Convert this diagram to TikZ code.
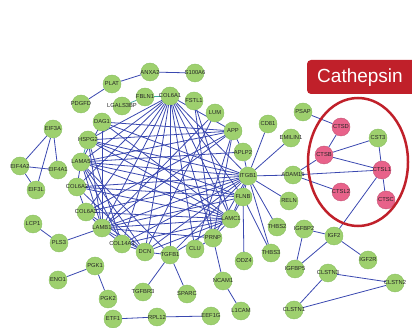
\documentclass[tikz,border=0pt]{standalone}
\usepackage{fontspec}
\setmainfont{Liberation Sans}
\usetikzlibrary{backgrounds}

\definecolor{nodegreen}{HTML}{9ED06E}
\definecolor{nodeline}{HTML}{88BF60}
\definecolor{cathpink}{HTML}{E8628A}
\definecolor{edgeblue}{HTML}{3A48B0}
\definecolor{edgeteal}{HTML}{3FA8A0}
\definecolor{cathred}{HTML}{C0202A}

\tikzset{
  gene/.style={draw=nodeline, fill=nodegreen, circle, minimum size=18pt, inner sep=0pt},
  cath/.style={gene, draw=cathpink!85!black, fill=cathpink},
  lbl/.style={font=\fontsize{5.8}{6}\selectfont, text=black!85, inner sep=0pt},
  link/.style={edgeblue, line width=0.8pt},
  tlink/.style={edgeteal, line width=0.8pt},
}

\begin{document}
\begin{tikzpicture}[x=1pt, y=-1pt]
        \useasboundingbox (0, 0) rectangle (412, 328);
        % cathepsin tag
        \fill [cathred, rounded corners=4pt] (307, 60) rectangle (430, 94);
        \node [text=white, font=\fontsize{19}{20}\selectfont] (tag) at (360, 78) {Cathepsin};
        % nodes
        \node [gene] (ANXA2) at (150, 72) {}; \node [lbl] at (ANXA2) {ANXA2};
        \node [gene] (S100A6) at (195, 73) {}; \node [lbl] at (S100A6) {S100A6};
        \node [gene] (PLAT) at (112, 84) {}; \node [lbl] at (PLAT) {PLAT};
        \node [gene] (PDGFD) at (81, 104) {}; \node [lbl] at (PDGFD) {PDGFD};
        \node [gene] (FBLN1) at (145, 97) {}; \node [lbl] at (FBLN1) {FBLN1};
        \node [gene] (COL6A1) at (170, 96) {}; \node [lbl] at (COL6A1) {COL6A1};
        \node [gene] (FSTL1) at (194, 101) {}; \node [lbl] at (FSTL1) {FSTL1};
        \node [gene] (LGALS3BP) at (122, 106) {}; \node [lbl] at (LGALS3BP) {LGALS3BP};
        \node [gene] (DAG1) at (102, 122) {}; \node [lbl] at (DAG1) {DAG1};
        \node [gene] (EIF3A) at (53, 129) {}; \node [lbl] at (EIF3A) {EIF3A};
        \node [gene] (HSPG2) at (88, 140) {}; \node [lbl] at (HSPG2) {HSPG2};
        \node [gene] (LAMA5) at (81, 162) {}; \node [lbl] at (LAMA5) {LAMA5};
        \node [gene] (EIF4A2) at (20, 166) {}; \node [lbl] at (EIF4A2) {EIF4A2};
        \node [gene] (EIF4A1) at (58, 170) {}; \node [lbl] at (EIF4A1) {EIF4A1};
        \node [gene] (EIF3L) at (36, 190) {}; \node [lbl] at (EIF3L) {EIF3L};
        \node [gene] (COL6A2) at (77, 187) {}; \node [lbl] at (COL6A2) {COL6A2};
        \node [gene] (COL6A3) at (86, 212) {}; \node [lbl] at (COL6A3) {COL6A3};
        \node [gene] (LCP1) at (33, 224) {}; \node [lbl] at (LCP1) {LCP1};
        \node [gene] (PLS3) at (59, 243) {}; \node [lbl] at (PLS3) {PLS3};
        \node [gene] (LAMB1) at (102, 228) {}; \node [lbl] at (LAMB1) {LAMB1};
        \node [gene] (COL14A1) at (122, 244) {}; \node [lbl] at (COL14A1) {COL14A1};
        \node [gene] (DCN) at (145, 252) {}; \node [lbl] at (DCN) {DCN};
        \node [gene] (TGFB1) at (170, 255) {}; \node [lbl] at (TGFB1) {TGFB1};
        \node [gene] (CLU) at (195, 249) {}; \node [lbl] at (CLU) {CLU};
        \node [gene] (PGK1) at (95, 266) {}; \node [lbl] at (PGK1) {PGK1};
        \node [gene] (ENO1) at (58, 280) {}; \node [lbl] at (ENO1) {ENO1};
        \node [gene] (PGK2) at (108, 299) {}; \node [lbl] at (PGK2) {PGK2};
        \node [gene] (TGFBR3) at (143, 292) {}; \node [lbl] at (TGFBR3) {TGFBR3};
        \node [gene] (SPARC) at (187, 294) {}; \node [lbl] at (SPARC) {SPARC};
        \node [gene] (ETF1) at (113, 319) {}; \node [lbl] at (ETF1) {ETF1};
        \node [gene] (RPL12) at (157, 317) {}; \node [lbl] at (RPL12) {RPL12};
        \node [gene] (EEF1G) at (211, 316) {}; \node [lbl] at (EEF1G) {EEF1G};
        \node [gene] (L1CAM) at (241, 311) {}; \node [lbl] at (L1CAM) {L1CAM};
        \node [gene] (NCAM1) at (223, 281) {}; \node [lbl] at (NCAM1) {NCAM1};
        \node [gene] (PRNP) at (213, 238) {}; \node [lbl] at (PRNP) {PRNP};
        \node [gene] (ODZ4) at (244, 261) {}; \node [lbl] at (ODZ4) {ODZ4};
        \node [gene] (LAMC1) at (231, 219) {}; \node [lbl] at (LAMC1) {LAMC1};
        \node [gene] (FLNB) at (243, 197) {}; \node [lbl] at (FLNB) {FLNB};
        \node [gene] (ITGB1) at (248, 176) {}; \node [lbl] at (ITGB1) {ITGB1};
        \node [gene] (ADAM15) at (293, 175) {}; \node [lbl] at (ADAM15) {ADAM15};
        \node [gene] (RELN) at (289, 201) {}; \node [lbl] at (RELN) {RELN};
        \node [gene] (THBS2) at (277, 227) {}; \node [lbl] at (THBS2) {THBS2};
        \node [gene] (THBS3) at (271, 253) {}; \node [lbl] at (THBS3) {THBS3};
        \node [gene] (IGFBP2) at (304, 229) {}; \node [lbl] at (IGFBP2) {IGFBP2};
        \node [gene] (IGF2) at (334, 236) {}; \node [lbl] at (IGF2) {IGF2};
        \node [gene] (IGF2R) at (368, 260) {}; \node [lbl] at (IGF2R) {IGF2R};
        \node [gene] (IGFBP5) at (295, 269) {}; \node [lbl] at (IGFBP5) {IGFBP5};
        \node [gene] (CLSTN3) at (328, 273) {}; \node [lbl] at (CLSTN3) {CLSTN3};
        \node [gene] (CLSTN2) at (395, 283) {}; \node [lbl] at (CLSTN2) {CLSTN2};
        \node [gene] (CLSTN1) at (294, 310) {}; \node [lbl] at (CLSTN1) {CLSTN1};
        \node [gene] (LUM) at (215, 113) {}; \node [lbl] at (LUM) {LUM};
        \node [gene] (APP) at (233, 131) {}; \node [lbl] at (APP) {APP};
        \node [gene] (APLP2) at (243, 152) {}; \node [lbl] at (APLP2) {APLP2};
        \node [gene] (CD81) at (268, 124) {}; \node [lbl] at (CD81) {CD81};
        \node [gene] (EMILIN1) at (291, 138) {}; \node [lbl] at (EMILIN1) {EMILIN1};
        \node [gene] (PSAP) at (303, 112) {}; \node [lbl] at (PSAP) {PSAP};
        \node [gene] (CST3) at (378, 138) {}; \node [lbl] at (CST3) {CST3};
        \node [cath] (CTSD) at (341, 127) {}; \node [lbl] at (CTSD) {CTSD};
        \node [cath] (CTSB) at (324, 155) {}; \node [lbl] at (CTSB) {CTSB};
        \node [cath] (CTSL1) at (382, 170) {}; \node [lbl] at (CTSL1) {CTSL1};
        \node [cath] (CTSL2) at (341, 192) {}; \node [lbl] at (CTSL2) {CTSL2};
        \node [cath] (CTSC) at (386, 200) {}; \node [lbl] at (CTSC) {CTSC};
        % cathepsin group
        \draw [cathred, line width=2.5pt] (358, 162) ellipse [x radius=50, y radius=64];
        \begin{scope}[on background layer]
        % outer links
        \draw [link] (ANXA2) -- (S100A6);
        \draw [link] (ANXA2) -- (PLAT);
        \draw [link] (PLAT) -- (PDGFD);
        \draw [tlink] (FBLN1) -- (COL6A1);
        \draw [tlink] (LGALS3BP) -- (FBLN1);
        \draw [link] (EIF3A) -- (EIF4A2);
        \draw [link] (EIF3A) -- (EIF4A1);
        \draw [link] (EIF3A) -- (EIF3L);
        \draw [link] (EIF4A2) -- (EIF4A1);
        \draw [link] (EIF4A2) -- (EIF3L);
        \draw [link] (LCP1) -- (PLS3);
        \draw [link] (PLS3) -- (LAMB1);
        \draw [link] (PGK1) -- (ENO1);
        \draw [link] (PGK1) -- (PGK2);
        \draw [link] (ETF1) -- (RPL12);
        \draw [link] (RPL12) -- (EEF1G);
        \draw [link] (TGFB1) -- (TGFBR3);
        \draw [link] (TGFB1) -- (SPARC);
        \draw [link] (PRNP) -- (NCAM1);
        \draw [link] (NCAM1) -- (L1CAM);
        \draw [link] (FLNB) -- (ODZ4);
        \draw [link] (ITGB1) -- (ADAM15);
        \draw [link] (ITGB1) -- (RELN);
        \draw [link] (ITGB1) -- (THBS2);
        \draw [link] (ITGB1) -- (THBS3);
        \draw [link] (FLNB) -- (THBS3);
        \draw [link] (ITGB1) -- (CD81);
        \draw [link] (ITGB1) -- (EMILIN1);
        \draw [link] (ADAM15) -- (CTSL1);
        \draw [link] (ADAM15) -- (CTSB);
        \draw [link] (ADAM15) -- (CTSL2);
        \draw [link] (PSAP) -- (CTSD);
        \draw [link] (CTSD) -- (CTSB);
        \draw [link] (CTSB) -- (CST3);
        \draw [link] (CTSB) -- (CTSL1);
        \draw [link] (CST3) -- (CTSL1);
        \draw [link] (CTSL1) -- (CTSC);
        \draw [link] (CTSL1) -- (IGF2);
        \draw [link] (IGF2) -- (IGFBP2);
        \draw [link] (IGF2) -- (IGFBP5);
        \draw [link] (IGF2) -- (IGF2R);
        \draw [link] (IGFBP2) -- (IGFBP5);
        \draw [link] (CLSTN3) -- (CLSTN2);
        \draw [link] (CLSTN3) -- (CLSTN1);
        \draw [link] (CLSTN1) -- (CLSTN2);
        % dense core
        \draw [link] (COL6A1) -- (LAMA5);
        \draw [link] (COL6A1) -- (HSPG2);
        \draw [link] (COL6A1) -- (COL6A2);
        \draw [link] (COL6A1) -- (COL6A3);
        \draw [link] (COL6A1) -- (LAMB1);
        \draw [link] (COL6A1) -- (COL14A1);
        \draw [link] (COL6A1) -- (DCN);
        \draw [link] (COL6A1) -- (TGFB1);
        \draw [link] (COL6A1) -- (CLU);
        \draw [link] (COL6A1) -- (PRNP);
        \draw [link] (COL6A1) -- (LAMC1);
        \draw [link] (COL6A1) -- (FLNB);
        \draw [link] (COL6A1) -- (ITGB1);
        \draw [link] (COL6A1) -- (APP);
        \draw [link] (FSTL1) -- (LAMC1);
        \draw [link] (FSTL1) -- (PRNP);
        \draw [link] (LUM) -- (DCN);
        \draw [link] (LUM) -- (LAMB1);
        \draw [link] (APP) -- (LAMA5);
        \draw [link] (APP) -- (HSPG2);
        \draw [link] (APP) -- (DAG1);
        \draw [link] (APP) -- (COL6A3);
        \draw [link] (APP) -- (CLU);
        \draw [link] (APP) -- (PRNP);
        \draw [link] (APP) -- (APLP2);
        \draw [link] (APP) -- (LAMB1);
        \draw [link] (APLP2) -- (ITGB1);
        \draw [link] (APLP2) -- (LAMA5);
        \draw [link] (DAG1) -- (LAMA5);
        \draw [link] (DAG1) -- (LAMB1);
        \draw [link] (DAG1) -- (ITGB1);
        \draw [link] (DAG1) -- (LAMC1);
        \draw [tlink] (HSPG2) -- (LAMA5);
        \draw [link] (HSPG2) -- (ITGB1);
        \draw [link] (HSPG2) -- (LAMB1);
        \draw [link] (HSPG2) -- (LAMC1);
        \draw [link] (HSPG2) -- (FLNB);
        \draw [link] (HSPG2) -- (COL14A1);
        \draw [link] (LAMA5) -- (COL6A2);
        \draw [link] (LAMA5) -- (LAMB1);
        \draw [link] (LAMA5) -- (LAMC1);
        \draw [link] (LAMA5) -- (ITGB1);
        \draw [link] (LAMA5) -- (DCN);
        \draw [link] (LAMA5) -- (FLNB);
        \draw [link] (LAMA5) -- (COL14A1);
        \draw [link] (LAMA5) -- (TGFB1);
        \draw [link] (COL6A2) -- (COL6A3);
        \draw [link] (COL6A2) -- (ITGB1);
        \draw [link] (COL6A2) -- (LAMC1);
        \draw [link] (COL6A2) -- (DCN);
        \draw [link] (COL6A2) -- (FLNB);
        \draw [link] (COL6A3) -- (ITGB1);
        \draw [link] (COL6A3) -- (LAMC1);
        \draw [link] (COL6A3) -- (DCN);
        \draw [link] (COL6A3) -- (LAMB1);
        \draw [link] (LAMB1) -- (ITGB1);
        \draw [link] (LAMB1) -- (LAMC1);
        \draw [link] (LAMB1) -- (FLNB);
        \draw [link] (LAMB1) -- (COL14A1);
        \draw [link] (LAMB1) -- (DCN);
        \draw [link] (LAMB1) -- (PRNP);
        \draw [link] (COL14A1) -- (ITGB1);
        \draw [link] (COL14A1) -- (LAMC1);
        \draw [link] (COL14A1) -- (DCN);
        \draw [link] (DCN) -- (ITGB1);
        \draw [link] (DCN) -- (TGFB1);
        \draw [link] (DCN) -- (LAMC1);
        \draw [link] (TGFB1) -- (ITGB1);
        \draw [link] (TGFB1) -- (LAMC1);
        \draw [link] (CLU) -- (PRNP);
        \draw [link] (PRNP) -- (LAMC1);
        \draw [link] (PRNP) -- (ITGB1);
        \draw [link] (ITGB1) -- (FLNB);
        \draw [link] (ITGB1) -- (LAMC1);
        \draw [link] (LAMC1) -- (FLNB);
        \end{scope}
    \end{tikzpicture}
\end{document}
